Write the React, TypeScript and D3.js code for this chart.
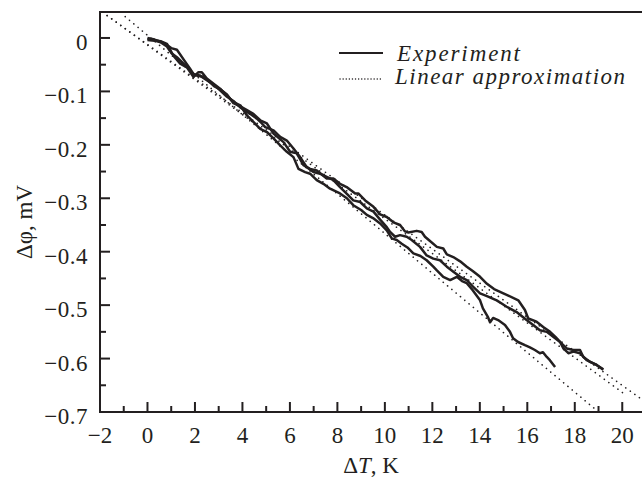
import * as d3 from "d3";
import React, { useRef, useEffect } from "react";

const mainWidth = 642;
const mainHeight = 477;

// plot box in pixels
const left = 100;
const right = 646;
const top = 12;
const bottom = 412;

const xDomain = [-2, 21];
const yDomain = [-0.7, 0.0486];

const xMajor = [-2, 0, 2, 4, 6, 8, 10, 12, 14, 16, 18, 20];
const xMinor = [-1, 1, 3, 5, 7, 9, 11, 13, 15, 17, 19];
const yMajor = [0, -0.1, -0.2, -0.3, -0.4, -0.5, -0.6, -0.7];
const yMinor = [-0.05, -0.15, -0.25, -0.35, -0.45, -0.55, -0.65];
const yLabels = ["0", "−0.1", "−0.2", "−0.3", "−0.4", "−0.5", "−0.6", "−0.7"];
const xLabels = ["−2", "0", "2", "4", "6", "8", "10", "12", "14", "16", "18", "20"];

// experiment, run 1 (steepest)
const runA = [
  [0, -0.002], [0.3, -0.004], [0.55, -0.006], [0.82, -0.011], [1.09, -0.033], [1.38, -0.048],
  [1.66, -0.055], [1.94, -0.073], [2.15, -0.064], [2.29, -0.064], [2.5, -0.076], [2.8, -0.086],
  [3.06, -0.095], [3.35, -0.108], [3.62, -0.12], [3.91, -0.126], [4.19, -0.145], [4.46, -0.157],
  [4.75, -0.17], [5.03, -0.176], [5.31, -0.188], [5.59, -0.201], [5.87, -0.213], [6.15, -0.223],
  [6.36, -0.245], [6.64, -0.251], [6.85, -0.254], [7.13, -0.266], [7.41, -0.273], [7.69, -0.282],
  [8.11, -0.291], [8.4, -0.3], [8.67, -0.313], [9.0, -0.322], [9.24, -0.331], [9.5, -0.337],
  [9.8, -0.347], [10.08, -0.36], [10.29, -0.375], [10.5, -0.378], [10.71, -0.385], [10.95, -0.392],
  [11.2, -0.403], [11.5, -0.408], [11.76, -0.416], [12.04, -0.428], [12.19, -0.435], [12.46, -0.447],
  [12.75, -0.453], [13.03, -0.447], [13.25, -0.455], [13.45, -0.459], [13.7, -0.472], [14.01, -0.491],
  [14.13, -0.506], [14.35, -0.523], [14.43, -0.532], [14.56, -0.524], [14.77, -0.528], [15.06, -0.537],
  [15.27, -0.55], [15.4, -0.562], [15.61, -0.569], [15.9, -0.575], [16.11, -0.579], [16.32, -0.584],
  [16.53, -0.59], [16.66, -0.588], [16.82, -0.597], [16.95, -0.603], [17.17, -0.616],
];

// experiment, run 2
const runB = [
  [0, 0], [0.3, -0.003], [0.55, -0.007], [0.82, -0.013], [1.0, -0.019], [1.24, -0.022],
  [1.52, -0.04], [1.8, -0.058], [1.94, -0.068], [2.2, -0.07], [2.5, -0.079], [2.8, -0.088],
  [3.06, -0.098], [3.35, -0.11], [3.62, -0.118], [3.91, -0.13], [4.32, -0.142], [4.61, -0.151],
  [4.82, -0.16], [4.96, -0.167], [5.31, -0.173], [5.59, -0.185], [5.87, -0.192], [6.15, -0.207],
  [6.43, -0.223], [6.71, -0.242], [6.99, -0.251], [7.27, -0.254], [7.55, -0.26], [7.83, -0.266],
  [8.11, -0.279], [8.4, -0.292], [8.67, -0.304], [8.96, -0.307], [9.24, -0.319], [9.52, -0.325],
  [9.8, -0.34], [10.08, -0.354], [10.22, -0.363], [10.43, -0.372], [10.64, -0.369], [10.92, -0.372],
  [11.13, -0.378], [11.48, -0.391], [11.76, -0.407], [12.04, -0.413], [12.32, -0.416], [12.61, -0.428],
  [12.9, -0.438], [13.17, -0.447], [13.45, -0.453], [13.7, -0.465], [14.01, -0.478], [14.3, -0.483],
  [14.71, -0.491], [14.92, -0.497], [15.13, -0.503], [15.55, -0.513], [15.97, -0.528], [16.25, -0.537],
  [16.53, -0.547], [16.82, -0.55], [17.09, -0.559], [17.38, -0.569], [17.52, -0.581], [17.73, -0.59],
  [17.94, -0.587], [18.22, -0.59], [18.5, -0.603], [18.92, -0.612], [19.2, -0.621],
];

// experiment, run 3
const runC = [
  [0, -0.004], [0.3, -0.005], [0.55, -0.008], [0.82, -0.016], [1.0, -0.028], [1.24, -0.036],
  [1.5, -0.047], [1.75, -0.058], [2.0, -0.07], [2.3, -0.072], [2.5, -0.077], [2.8, -0.09],
  [3.06, -0.096], [3.35, -0.106], [3.62, -0.122], [3.91, -0.128], [4.19, -0.135], [4.46, -0.142],
  [4.75, -0.154], [5.03, -0.16], [5.31, -0.179], [5.73, -0.195], [6.01, -0.213], [6.29, -0.216],
  [6.57, -0.238], [6.85, -0.245], [7.13, -0.248], [7.55, -0.263], [7.83, -0.263], [8.11, -0.273],
  [8.39, -0.279], [8.75, -0.291], [8.88, -0.291], [9.17, -0.304], [9.52, -0.316], [9.8, -0.33],
  [10.08, -0.335], [10.36, -0.345], [10.64, -0.35], [10.85, -0.362], [10.99, -0.364], [11.34, -0.361],
  [11.55, -0.363], [11.69, -0.372], [11.9, -0.38], [12.19, -0.391], [12.46, -0.394], [12.61, -0.405],
  [12.88, -0.41], [13.17, -0.418], [13.45, -0.428], [13.7, -0.436], [14.01, -0.447], [14.3, -0.46],
  [14.6, -0.47], [14.9, -0.476], [15.2, -0.482], [15.62, -0.491], [15.9, -0.509], [16.04, -0.525],
  [16.39, -0.531], [16.67, -0.541], [16.96, -0.55], [17.24, -0.562], [17.45, -0.572], [17.66, -0.581],
  [17.94, -0.584], [18.22, -0.584], [18.36, -0.597], [18.64, -0.606], [18.92, -0.612], [19.2, -0.62],
];

const runs = [runA, runB, runC];

// linear fits, one per run
const fitFrom = [-0.94, -1.7, -1.7];
const fitTo = [18.98, 21, 20.1];
const fitIntercept = [0.005, -0.0122, -0.0133];
const fitSlope = [-0.0371, -0.0319, -0.0325];

const serif = "Liberation Serif, Times New Roman, Times, serif";
const ink = "#231f20";

function App() {
  const ref = useRef(null);

  useEffect(() => {
    const svg = d3.select(ref.current);
    svg.selectAll("*").remove();

    const x = d3.scaleLinear().domain(xDomain).range([left, right]);
    const y = d3.scaleLinear().domain(yDomain).range([bottom, top]);

    svg.append("defs")
      .append("clipPath")
      .attr("id", "plot")
      .append("rect")
      .attr("x", left)
      .attr("y", top)
      .attr("width", right - left)
      .attr("height", bottom - top);

    const plot = svg.append("g").attr("clip-path", "url(#plot)");

    // dotted fits
    const fits = fitFrom.map((x0, i) => [
      [x0, fitIntercept[i] + fitSlope[i] * x0],
      [fitTo[i], fitIntercept[i] + fitSlope[i] * fitTo[i]],
    ]);
    const line = d3.line().x((d) => x(d[0])).y((d) => y(d[1]));

    plot.selectAll(".fit")
      .data(fits)
      .join("path")
      .attr("class", "fit")
      .attr("d", line)
      .attr("fill", "none")
      .attr("stroke", ink)
      .attr("stroke-width", 1.6)
      .attr("stroke-linecap", "round")
      .attr("stroke-dasharray", "0.1 5.5");

    plot.selectAll(".run")
      .data(runs)
      .join("path")
      .attr("class", "run")
      .attr("d", line)
      .attr("fill", "none")
      .attr("stroke", ink)
      .attr("stroke-width", 2.5)
      .attr("stroke-linejoin", "round");

    // frame
    const frame = svg.append("g").attr("stroke", ink).attr("stroke-width", 2);
    frame.append("line").attr("x1", left).attr("x2", left).attr("y1", top - 1).attr("y2", bottom + 1);
    frame.append("line").attr("x1", left - 1).attr("x2", mainWidth).attr("y1", bottom).attr("y2", bottom);
    frame.append("line").attr("x1", left - 1).attr("x2", mainWidth).attr("y1", top).attr("y2", top);

    // ticks, pointing inward
    frame.selectAll(".xmaj").data(xMajor).join("line")
      .attr("x1", (d) => x(d)).attr("x2", (d) => x(d))
      .attr("y1", bottom).attr("y2", bottom - 10);
    frame.selectAll(".xmin").data(xMinor).join("line")
      .attr("x1", (d) => x(d)).attr("x2", (d) => x(d))
      .attr("y1", bottom).attr("y2", bottom - 6);
    frame.selectAll(".ymaj").data(yMajor).join("line")
      .attr("x1", left).attr("x2", left + 10)
      .attr("y1", (d) => y(d)).attr("y2", (d) => y(d));
    frame.selectAll(".ymin").data(yMinor).join("line")
      .attr("x1", left).attr("x2", left + 6)
      .attr("y1", (d) => y(d)).attr("y2", (d) => y(d));

    const text = svg.append("g").attr("font-family", serif).attr("fill", ink);

    text.selectAll(".xl").data(xMajor).join("text")
      .attr("x", (d) => x(d))
      .attr("y", 443)
      .attr("text-anchor", "middle")
      .attr("font-size", 23)
      .text((_, i) => xLabels[i]);

    text.selectAll(".yl").data(yMajor).join("text")
      .attr("x", 88)
      .attr("y", (d) => y(d) + 12)
      .attr("text-anchor", "end")
      .attr("font-size", 23)
      .attr("letter-spacing", 0.5)
      .text((_, i) => yLabels[i]);

    // axis titles
    const xt = text.append("text")
      .attr("x", 371)
      .attr("y", 473)
      .attr("text-anchor", "middle")
      .attr("font-size", 23);
    xt.append("tspan").text("Δ");
    xt.append("tspan").attr("font-style", "italic").text("T");
    xt.append("tspan").text(", K");

    text.append("text")
      .attr("transform", "translate(32, 222) rotate(-90)")
      .attr("text-anchor", "middle")
      .attr("font-size", 23)
      .text("Δφ, mV");

    // legend
    svg.append("line")
      .attr("x1", 339).attr("x2", 383).attr("y1", 53).attr("y2", 53)
      .attr("stroke", ink).attr("stroke-width", 2.2);
    svg.append("line")
      .attr("x1", 340).attr("x2", 383).attr("y1", 79).attr("y2", 79)
      .attr("stroke", ink).attr("stroke-width", 1.4)
      .attr("stroke-linecap", "round")
      .attr("stroke-dasharray", "0.1 3");

    text.append("text")
      .attr("x", 397).attr("y", 61)
      .attr("font-size", 23).attr("font-style", "italic")
      .attr("textLength", 123).attr("lengthAdjust", "spacing")
      .text("Experiment");
    text.append("text")
      .attr("x", 395).attr("y", 84)
      .attr("font-size", 23).attr("font-style", "italic")
      .attr("textLength", 230).attr("lengthAdjust", "spacing")
      .text("Linear approximation");
  }, []);

  return (
    <svg
      ref={ref}
      width={mainWidth}
      height={mainHeight}
      style={{ position: "absolute", left: 0, top: 0, background: "#fff" }}
    ></svg>
  );
}

export default App;
